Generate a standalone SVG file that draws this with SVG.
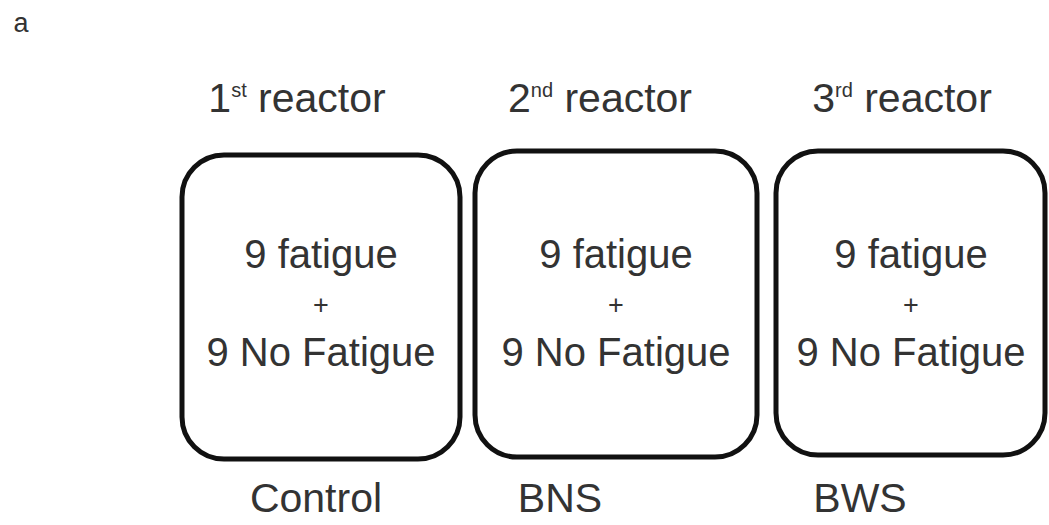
<svg xmlns="http://www.w3.org/2000/svg" width="1049" height="525" viewBox="0 0 1049 525">
<style>
text{font-family:"Liberation Sans",Arial,sans-serif;fill:#333;text-anchor:middle}
.t{font-size:41px}
.in{font-size:40px}
.pl{font-size:27px}
.sup{font-size:20px}
.box{fill:#fff;stroke:#111;stroke-width:5}
</style>
<rect width="1049" height="525" fill="#fff"/>
<text x="21" y="32" style="font-size:27px">a</text>
<g id="reactor1">
<text class="t" x="297" y="112">1<tspan class="sup" dy="-15">st</tspan><tspan dy="15"> reactor</tspan></text>
<rect class="box" x="182" y="155" width="278" height="304" rx="42"/>
<text class="in" x="321" y="268">9 fatigue</text>
<text class="pl" x="321" y="314">+</text>
<text class="in" x="321" y="366">9 No Fatigue</text>
<text class="t" x="316" y="512">Control</text>
</g>
<g id="reactor2">
<text class="t" x="600" y="112">2<tspan class="sup" dy="-15">nd</tspan><tspan dy="15"> reactor</tspan></text>
<rect class="box" x="475" y="151" width="282" height="306" rx="42"/>
<text class="in" x="616" y="268">9 fatigue</text>
<text class="pl" x="616" y="314">+</text>
<text class="in" x="616" y="366">9 No Fatigue</text>
<text class="t" x="560" y="512">BNS</text>
</g>
<g id="reactor3">
<text class="t" x="902" y="112">3<tspan class="sup" dy="-15">rd</tspan><tspan dy="15"> reactor</tspan></text>
<rect class="box" x="776" y="151" width="269" height="304" rx="42"/>
<text class="in" x="911" y="268">9 fatigue</text>
<text class="pl" x="911" y="314">+</text>
<text class="in" x="911" y="366">9 No Fatigue</text>
<text class="t" x="860" y="512">BWS</text>
</g>
<g id="connectors"/>
</svg>
